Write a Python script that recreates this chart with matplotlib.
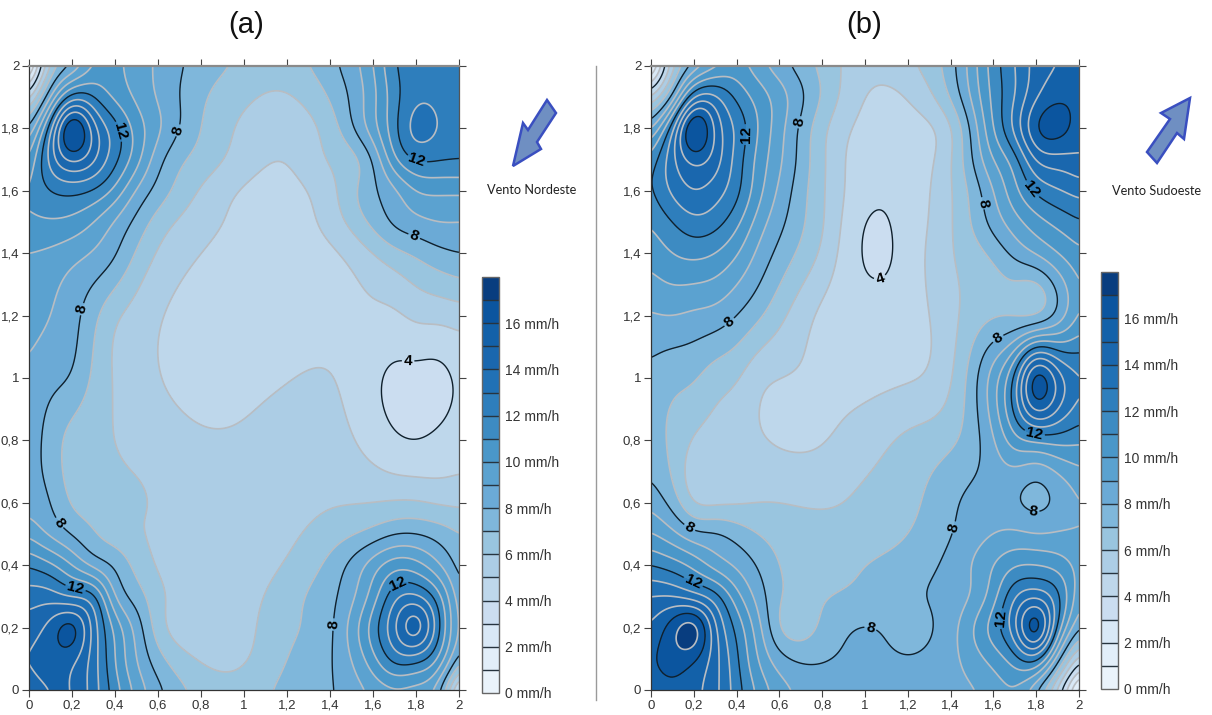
import numpy as np
import matplotlib
matplotlib.use('Agg')
import matplotlib.pyplot as plt
from matplotlib.colors import ListedColormap, BoundaryNorm
from matplotlib.patches import Polygon
from matplotlib.ticker import FuncFormatter

x_nodes = [0, .1, .2, .3, .4, .5, .6, .8, 1, 1.2, 1.4, 1.6, 1.7, 1.8, 1.9, 2]
y_nodes = [2, 1.9, 1.8, 1.7, 1.6, 1.5, 1.4, 1.2, 1, .8, .6, .5, .4, .3, .2, .1, 0]

# rain intensity (mm/h), rows follow y_nodes, columns follow x_nodes
rain_a = [
	[0, 6, 8, 10, 10.2, 9.6, 8.8, 7.6, 6.8, 6.6, 7.7, 10, 11.9, 12.6, 12.8, 12.8],
	[4.5, 9, 12.5, 12, 10.8, 9.8, 8.9, 7.2, 6.2, 5.9, 7.1, 9.7, 11.6, 12.8, 12.8, 12.7],
	[8, 12.7, 17.3, 14.5, 12.4, 10.6, 9.2, 7, 5.8, 5.4, 6.5, 9.6, 11.7, 13.4, 13, 12.6],
	[10, 13.4, 15.3, 14.2, 12.3, 10.4, 8.4, 6.6, 5.5, 5.05, 6.1, 8.1, 10.8, 12.1, 12.1, 12],
	[11, 12, 12.3, 11.9, 10.7, 8.9, 7.6, 5.9, 4.9, 4.7, 5.7, 7.8, 8.8, 10, 10.2, 10.2],
	[10.8, 10.9, 10.7, 10, 8.9, 7.7, 6.6, 5.4, 4.7, 4.5, 5.4, 7.3, 8.2, 8.7, 9, 9],
	[10, 9.8, 9.4, 8.9, 8.1, 6.9, 5.9, 5, 4.5, 4.4, 4.8, 6, 6.7, 7.2, 7.7, 8],
	[9.4, 9, 8.4, 7.3, 6.2, 5.6, 5.1, 4.6, 4.4, 4.4, 4.6, 4.8, 4.85, 5.2, 5.3, 5.5],
	[8.8, 8.3, 7.9, 6.8, 5.9, 5.4, 5.05, 4.6, 4.7, 4.95, 5.05, 4.2, 3.8, 3.7, 3.7, 4.2],
	[8.5, 7.6, 6.6, 6.2, 6, 5.7, 5.5, 5.15, 5.15, 5.4, 5.4, 4.6, 4.15, 4, 4.2, 4.5],
	[8.6, 8, 6.9, 6.5, 6.2, 6.1, 5.9, 5.6, 5.5, 5.6, 5.9, 6, 6.1, 6.1, 5.9, 5.8],
	[9.8, 8.8, 7.9, 7.1, 6.5, 6.1, 5.85, 5.65, 5.6, 5.8, 6.5, 7.4, 7.95, 8, 7.6, 7],
	[11.9, 11.2, 10, 8.7, 7.8, 6.7, 5.9, 5.5, 5.5, 6.1, 7.3, 9.5, 10.6, 10.4, 9.2, 7.6],
	[13.5, 13.5, 12.9, 12.3, 9, 7.5, 6.3, 5.5, 5.6, 6.6, 7.7, 10.5, 12.7, 13.2, 11.5, 8.3],
	[14.5, 15.4, 16.5, 13.6, 10.7, 8.6, 6.5, 5.4, 5.7, 6.8, 7.8, 11.5, 13.9, 15.7, 12.5, 8.6],
	[15, 15.5, 15.3, 13.5, 11, 9, 7.4, 5.9, 5.9, 7, 7.9, 10.7, 12.4, 12.5, 11, 7.5],
	[14.5, 15, 15, 13.5, 11.5, 9.7, 8.3, 6.7, 6.5, 7.3, 7.9, 9.2, 9.7, 9.5, 8.4, 3],
]
rain_b = [
	[0, 5.5, 8.1, 9.6, 10.3, 9.4, 8.4, 6.7, 5.4, 5.8, 7.6, 11.5, 13, 14.4, 15, 15.6],
	[5, 8.3, 13, 13.2, 11.8, 10.6, 9.5, 6.9, 5, 5.05, 7.1, 11.3, 13, 14.9, 15.8, 15.7],
	[8.8, 12.7, 17.4, 14.8, 12.8, 11, 9.4, 6.3, 4.7, 4.6, 5.9, 11, 13.3, 16, 16.5, 15.5],
	[11.3, 13.7, 15.4, 14.5, 12.6, 10.7, 9.2, 6.2, 4.4, 4.4, 5.9, 10, 11.6, 14.1, 14.6, 14.8],
	[11.8, 13.2, 14, 13.5, 12.3, 10.4, 8.8, 6.15, 4.3, 4.4, 5.9, 9, 10.7, 12.2, 12.9, 13.4],
	[11.1, 12, 12.7, 12.4, 11.3, 9.6, 8.3, 6.1, 4, 4.4, 5.9, 8.4, 9.6, 10.6, 11.3, 11.9],
	[10.4, 11, 11.3, 11, 10.1, 8.8, 7.7, 5.8, 3.9, 4.4, 5.9, 7.3, 8.3, 9.1, 10, 10.8],
	[8.9, 9, 8.8, 8.6, 8, 7.2, 6.3, 4.8, 4.4, 4.5, 5.7, 6.9, 6.9, 6.95, 8.3, 10.2],
	[7.7, 7.3, 7.1, 6.5, 6.1, 5.3, 5, 4.85, 4.75, 4.9, 5.9, 9.5, 12.3, 16.6, 14.6, 13],
	[7.4, 6.8, 5.9, 5.5, 5.3, 5.1, 4.9, 4.95, 5.5, 6.2, 6.8, 8.9, 10.6, 11.2, 11.4, 11.2],
	[8.7, 7.6, 6, 5.8, 5.9, 6, 6, 5.9, 6.2, 6.7, 7.8, 8.4, 8.1, 7.7, 8.2, 9],
	[10.1, 9.3, 8.3, 8.1, 7.6, 7, 6.6, 6.3, 6.4, 7, 7.95, 9, 9.2, 9, 9.1, 9.1],
	[12, 11.5, 10.7, 9.6, 8.8, 7.9, 7, 6.5, 7, 7.5, 8.3, 10, 10.9, 11, 10.6, 9.6],
	[14, 14, 13.4, 12.4, 10.4, 8.6, 7.1, 6.9, 7.3, 7.8, 8.4, 10.6, 12.9, 13.8, 12.3, 9.2],
	[15.1, 16.6, 17.6, 14.2, 11.7, 9.4, 7, 7.2, 8.05, 7.7, 8.6, 11.5, 13.8, 16.8, 11.8, 8],
	[15.8, 16.5, 16.2, 14.4, 12.2, 10, 8.4, 7.9, 8.25, 8.05, 8.7, 10.4, 11.6, 12.4, 8.5, 4.5],
	[15.4, 15.7, 15.3, 14.3, 12.5, 10.8, 9.5, 8.6, 8.6, 8.5, 8.7, 9.4, 9.8, 8, 4.6, 0],
]

band_colors = ['#eaf3fb', '#e2eef9', '#d9e8f6', '#cbddf0', '#bed7eb', '#accde5', '#99c5df', '#7fb7db',
	'#6baad6', '#5ba2d0', '#4a97c9', '#3d8bc2', '#2e7ebc', '#2171b5', '#1a67ae', '#1361a9', '#0b559f', '#083d7f']
levels = list(range(0, 19))
bar_ticks = list(range(0, 18, 2))
axis_ticks = [0, .2, .4, .6, .8, 1, 1.2, 1.4, 1.6, 1.8, 2]

W, H = 1212, 715
plt.rcParams['font.family'] = ['Liberation Sans']


def spline_along(xs, vals, xf):
	# natural cubic spline along axis 0, numpy only
	xs = np.asarray(xs, float)
	n = len(xs)
	h = np.diff(xs)
	A = np.zeros((n, n))
	b = np.zeros((n, vals.shape[1]))
	A[0, 0] = A[-1, -1] = 1
	for i in range(1, n - 1):
		A[i, i - 1:i + 2] = h[i - 1], 2 * (h[i - 1] + h[i]), h[i]
		b[i] = 6 * ((vals[i + 1] - vals[i]) / h[i] - (vals[i] - vals[i - 1]) / h[i - 1])
	m = np.linalg.solve(A, b)
	k = np.clip(np.searchsorted(xs, xf) - 1, 0, n - 2)
	t0 = (xs[k + 1] - xf)[:, None]
	t1 = (xf - xs[k])[:, None]
	hk = h[k][:, None]
	return (m[k] * t0**3 + m[k + 1] * t1**3) / (6 * hk) + (vals[k] / hk - m[k] * hk / 6) * t0 + (vals[k + 1] / hk - m[k + 1] * hk / 6) * t1


def blur(z, sigma=5):
	# light gaussian pass so the rings come out round
	r = 3 * sigma
	g = np.exp(-0.5 * (np.arange(-r, r + 1) / sigma) ** 2)
	g = g / g.sum()
	p = np.pad(z, r, mode='edge')
	p = np.apply_along_axis(lambda s: np.convolve(s, g, mode='same'), 0, p)
	p = np.apply_along_axis(lambda s: np.convolve(s, g, mode='same'), 1, p)
	return p[r:-r, r:-r]


def smooth(rows):
	z = np.array(rows, float)[::-1]
	yn = np.array(y_nodes, float)[::-1]
	xf = np.linspace(0, 2, 401)
	yf = np.linspace(0, 2, 401)
	z = spline_along(yn, z, yf)
	z = spline_along(x_nodes, z.T, xf).T
	return xf, yf, np.clip(blur(z), 0, 17.95)


def panel(box, rows, title, title_x, bar_box, label_pos):
	ax = fig.add_axes([box[0] / W, 1 - box[3] / H, (box[2] - box[0]) / W, (box[3] - box[1]) / H])
	xf, yf, z = smooth(rows)
	# each panel its own norm, a shared one resets the first colorbar
	cf = ax.contourf(xf, yf, z, levels=levels, cmap=cmap, norm=BoundaryNorm(levels, cmap.N))
	grey = [l for l in levels if l % 4 != 0]
	black = [l for l in levels if l % 4 == 0]
	ax.contour(xf, yf, z, levels=grey, colors='#b9bdc2', linewidths=1.2)
	cs = ax.contour(xf, yf, z, levels=black, colors='#10202c', linewidths=1.0)
	for t in ax.clabel(cs, fmt='%d', fontsize=11, manual=label_pos, inline=True, inline_spacing=2):
		t.set_fontweight('bold')
		t.set_color('black')
	ax.set_xlim(0, 2)
	ax.set_ylim(0, 2)
	ax.set_xticks(axis_ticks)
	ax.set_yticks(axis_ticks)
	fmt = FuncFormatter(lambda v, p: ('%g' % round(v, 1)).replace('.', ','))
	ax.xaxis.set_major_formatter(fmt)
	ax.yaxis.set_major_formatter(fmt)
	ax.tick_params(top=True, right=True, direction='out', length=5, width=0.8, color='#444444', labelsize=9.5, pad=2, labelcolor='#333333')
	for side, c, lw in [('top', '#8a8a8a', 1.6), ('left', '#333333', 0.9), ('bottom', '#333333', 0.9), ('right', '#555555', 0.9)]:
		ax.spines[side].set_color(c)
		ax.spines[side].set_linewidth(lw)
	over.text(title_x, 25, title, fontsize=21, ha='center', va='center', color='#111111')

	cax = fig.add_axes([bar_box[0] / W, 1 - bar_box[3] / H, (bar_box[2] - bar_box[0]) / W, (bar_box[3] - bar_box[1]) / H])
	cb = fig.colorbar(cf, cax=cax, ticks=bar_ticks, drawedges=True, spacing='uniform')
	cb.ax.yaxis.set_major_formatter(FuncFormatter(lambda v, p: '%d mm/h' % round(v)))
	cb.ax.minorticks_off()
	cb.ax.tick_params(length=0, labelsize=10, pad=4, labelcolor='#333333')
	cb.dividers.set_color('#27343f')
	cb.dividers.set_linewidth(1.0)
	cb.outline.set_edgecolor('#666666')
	cb.outline.set_linewidth(1.0)


cmap = ListedColormap(band_colors)

fig = plt.figure(figsize=(W / 100, H / 100), dpi=100, facecolor='white')
over = fig.add_axes([0, 0, 1, 1], zorder=5)
over.set_xlim(0, W)
over.set_ylim(H, 0)
over.axis('off')

panel((29, 66, 459, 690), rain_a, '(a)', 246, (482, 277, 499, 693),
	[(.42, 1.79), (.71, 1.79), (.25, 1.22), (.11, .52), (.22, .34), (1.41, .21), (1.73, .32), (1.8, 1.69), (1.8, 1.47), (1.77, 1.17)])
panel((651, 66, 1079, 690), rain_b, '(b)', 864, (1101, 272, 1118, 689),
	[(.45, 1.78), (.69, 1.82), (.34, 1.2), (1.55, 1.56), (1.77, 1.6), (1.07, 1.32), (1.6, 1.15), (1.8, .85), (.18, .52), (.22, .38),
	(1.42, .52), (1.03, .21), (1.62, .23), (1.78, .55)])

# wind arrows and captions
over.add_patch(Polygon([(513, 166), (523, 123), (528, 130), (547, 100), (556, 113), (537, 142), (541, 149)],
	closed=True, facecolor='#6f8fc2', edgecolor='#3a4fc0', linewidth=1.8))
over.add_patch(Polygon([(1190, 98), (1161, 113), (1170, 119), (1147, 152), (1157, 163), (1177, 133), (1184, 139)],
	closed=True, facecolor='#6f8fc2', edgecolor='#3a4fc0', linewidth=1.8))
over.text(532, 190, 'Vento Nordeste', fontsize=9.2, ha='center', va='center', family='Lato', color='#222222')
over.text(1157, 191, 'Vento Sudoeste', fontsize=9.2, ha='center', va='center', family='Lato', color='#222222')
over.plot([596, 596], [66, 700], color='#9a9a9a', linewidth=1)

fig.savefig('out.png', dpi=100)
